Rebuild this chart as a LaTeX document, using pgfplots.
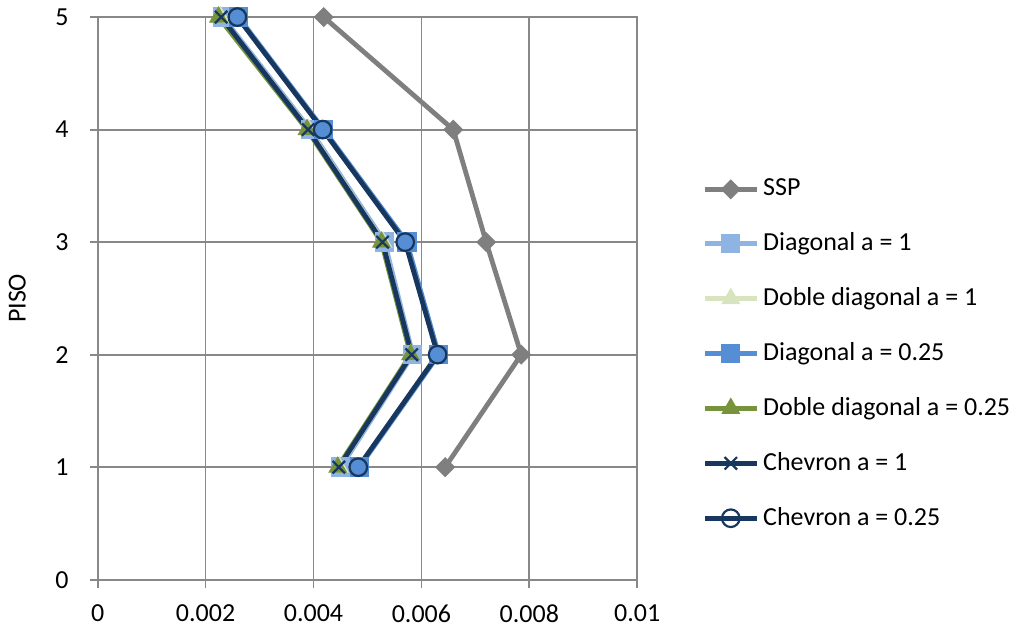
\documentclass[border=0pt]{standalone}
\usepackage{pgfplots}
\pgfplotsset{compat=1.18}
\usepackage{fontspec}
\setmainfont{Carlito}
\definecolor{cssp}{HTML}{7F7F7F}
\definecolor{cdiag}{HTML}{8EB4E3}
\definecolor{cddiag}{HTML}{D7E4BD}
\definecolor{cdiagb}{HTML}{558ED5}
\definecolor{cddiagb}{HTML}{77933C}
\definecolor{cchev}{HTML}{17375E}
\definecolor{cgrid}{HTML}{888888}
\begin{document}
\fontsize{13}{15.5}\selectfont
\begin{tikzpicture}[font=\fontsize{13}{15.5}\selectfont]
\begin{axis}[
  scale only axis,
  width=270pt, height=281.5pt,
  xmin=0, xmax=0.01, ymin=0, ymax=5,
  scaled x ticks=false,
  xtick={0,0.002,0.004,0.006,0.008,0.01},
  xticklabels={0,0.002,0.004,0.006,0.008,0.01},
  ytick={0,1,2,3,4,5},
  yticklabels={0,1,2,3,4,5},
  grid=major,
  grid style={cgrid, line width=0.9pt},
  axis line style={cgrid, line width=0.9pt},
  tick style={cgrid, line width=0.9pt},
  tick pos=left,
  tick align=outside,
  major tick length=4pt,
  xticklabel style={yshift=-4pt},
  yticklabel style={xshift=-6pt},
  ylabel={PISO},
  ylabel style={yshift=6pt},
  legend style={at={(1.12,0.401)}, anchor=west, draw=none, fill=none,
    row sep=12.5pt, inner sep=0pt, font=\fontsize{13}{15.5}\selectfont},
  legend cell align=left,
  legend image code/.code={\draw[mark repeat=2,mark phase=2] plot coordinates {(0pt,0pt) (13pt,0pt) (26pt,0pt)};},
  every axis plot/.append style={line width=2.4pt},
]
\addplot[cssp, mark=square*, mark size=3.3pt, mark options={solid,rotate=45,fill=cssp,line width=0.5pt}] coordinates {
  (0.00644,1) (0.00785,2) (0.00720,3) (0.00659,4) (0.00419,5)};
\addlegendentry{SSP}
\addplot[cdiag, mark=square*, mark size=4.6pt, mark options={fill=cdiag,line width=0.5pt}] coordinates {
  (0.00451,1) (0.00584,2) (0.00532,3) (0.00394,4) (0.00232,5)};
\addlegendentry{Diagonal a = 1}
\addplot[cddiag, mark=triangle*, mark size=5pt, mark options={fill=cddiag,line width=0.5pt}] coordinates {
  (0.00448,1) (0.00580,2) (0.00529,3) (0.00391,4) (0.00228,5)};
\addlegendentry{Doble diagonal a = 1}
\addplot[cdiagb, mark=square*, mark size=4.6pt, mark options={fill=cdiagb,line width=0.5pt}] coordinates {
  (0.00485,1) (0.00632,2) (0.00573,3) (0.00419,4) (0.00261,5)};
\addlegendentry{Diagonal a = 0.25}
\addplot[cddiagb, mark=triangle*, mark size=5pt, mark options={fill=cddiagb,line width=0.5pt}] coordinates {
  (0.00445,1) (0.00580,2) (0.00526,3) (0.00388,4) (0.00224,5)};
\addlegendentry{Doble diagonal a = 0.25}
\addplot[cchev, mark=x, mark size=4.4pt, mark options={line width=1.1pt}] coordinates {
  (0.00447,1) (0.00582,2) (0.00528,3) (0.00390,4) (0.00229,5)};
\addlegendentry{Chevron a = 1}
\addplot[cchev, mark=o, mark size=4.4pt, mark options={line width=1.1pt}] coordinates {
  (0.00483,1) (0.00630,2) (0.00570,3) (0.00417,4) (0.00259,5)};
\addlegendentry{Chevron a = 0.25}
\end{axis}
\path ([xshift=-48.5pt,yshift=-26.5pt]current axis.south west) rectangle ++(508.5pt,316.5pt);
\end{tikzpicture}
\end{document}
